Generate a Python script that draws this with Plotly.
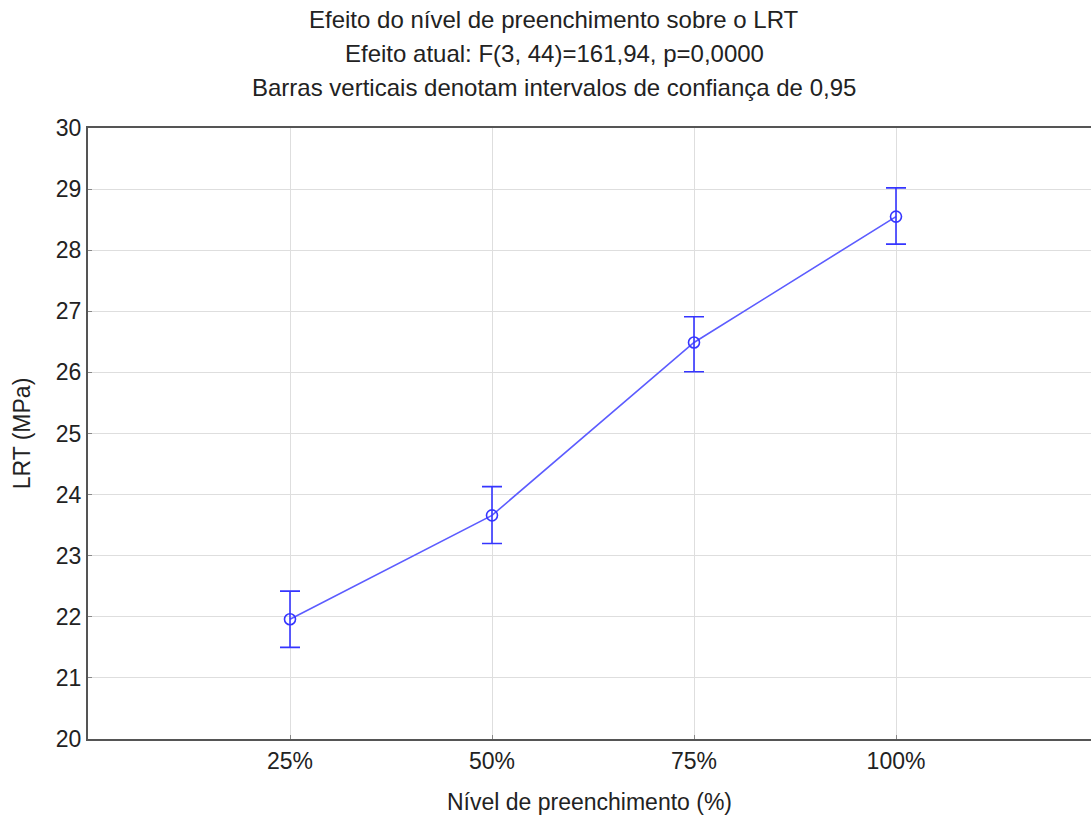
import plotly.graph_objects as go

categories = ["25%", "50%", "75%", "100%"]
means = [21.96, 23.66, 26.49, 28.55]
upper = [22.42, 24.13, 26.91, 29.02]
lower = [21.50, 23.20, 26.01, 28.10]
y_ticks = [20, 21, 22, 23, 24, 25, 26, 27, 28, 29, 30]

title_lines = [
    "Efeito do nível de preenchimento sobre o LRT",
    "Efeito atual: F(3, 44)=161,94, p=0,0000",
    "Barras verticais denotam intervalos de confiança de 0,95",
]

xpos = list(range(1, len(categories) + 1))
err_plus = [u - m for u, m in zip(upper, means)]
err_minus = [m - l for m, l in zip(means, lower)]

fig = go.Figure()
fig.add_trace(go.Scatter(
    x=xpos, y=means, mode="lines",
    line=dict(color="#5c5cff", width=1.6),
    hoverinfo="skip", showlegend=False,
))
fig.add_trace(go.Scatter(
    x=xpos, y=means, mode="markers",
    marker=dict(symbol="circle-open", size=11, color="#3535ff", line=dict(width=1.6)),
    error_y=dict(type="data", symmetric=False, array=err_plus, arrayminus=err_minus,
                 color="#3535ff", thickness=1.6, width=10),
    showlegend=False,
))

font = "Liberation Sans, Arial, sans-serif"
txtcolor = "#222222"

fig.update_layout(
    width=1091, height=819,
    margin=dict(l=88, r=0, t=128, b=80),
    paper_bgcolor="white", plot_bgcolor="white",
    font=dict(family=font, color=txtcolor),
)

ann = []
for txt, yy in zip(title_lines, [20, 54, 88]):
    ann.append(dict(text=txt, xref="paper", yref="paper",
                    x=(554 - 88) / 1003, y=1 + (128 - yy) / 611,
                    showarrow=False, xanchor="center", yanchor="middle",
                    font=dict(family=font, size=24, color=txtcolor)))
fig.update_layout(annotations=ann)

fig.update_xaxes(
    range=[0, 1003 / 202], tickvals=xpos, ticktext=categories,
    showgrid=True, gridcolor="#dedede", gridwidth=1,
    showline=True, linecolor="#555555", linewidth=2, mirror=True,
    ticks="inside", ticklen=4, tickcolor="#888888",
    tickfont=dict(size=23, family=font, color=txtcolor),
    title=dict(text="Nível de preenchimento (%)", font=dict(size=23, family=font, color=txtcolor), standoff=21),
    zeroline=False,
)
fig.update_yaxes(
    range=[20, 30], tickvals=y_ticks, ticktext=[str(t) for t in y_ticks],
    showgrid=True, gridcolor="#dedede", gridwidth=1,
    showline=True, linecolor="#555555", linewidth=2, mirror=False,
    ticks="inside", ticklen=4, tickcolor="#888888",
    tickfont=dict(size=23, family=font, color=txtcolor),
    title=dict(text="LRT (MPa)", font=dict(size=23, family=font, color=txtcolor), standoff=19),
    zeroline=False,
)

fig.write_html("out.html")
